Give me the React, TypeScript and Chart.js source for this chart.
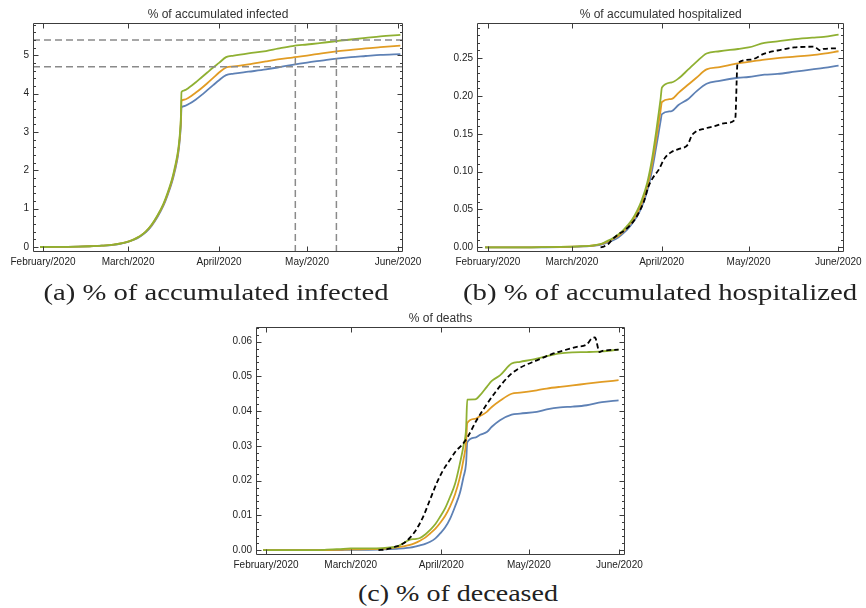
import React, { useEffect, useLayoutEffect, useRef, useState } from "react";
import { Chart, registerables } from "chart.js";
Chart.register(...registerables);

const BLUE = "#5E81B5";
const ORANGE = "#E19C24";
const GREEN = "#8FB032";
const SANS = '"Liberation Sans", Arial, sans-serif';

// x positions are days since 1 Feb 2020
const monthTicks = [0, 29, 60, 90, 121];
const monthLabels = ["February/2020", "March/2020", "April/2020", "May/2020", "June/2020"];

// (a) accumulated infected
const infDays = [-1, 4, 8, 12, 16, 20, 24, 27, 29, 31, 33, 35, 37, 39, 41, 42.5, 44, 45, 46, 46.6, 47.0,
  47.2, 48, 50, 52, 54, 56, 58, 60, 62.4, 65, 70, 76, 80, 85, 90, 95, 100, 105, 110, 115, 121.8];
const infGreen = [0, 0.002, 0.005, 0.01, 0.02, 0.035, 0.06, 0.1, 0.14, 0.2, 0.28, 0.4, 0.58, 0.82, 1.12, 1.42, 1.78, 2.1, 2.5, 2.9, 3.4,
  4.04, 4.08, 4.17, 4.29, 4.42, 4.55, 4.68, 4.8, 4.95, 4.99, 5.05, 5.11, 5.17, 5.24, 5.28, 5.32, 5.37, 5.41, 5.45, 5.49, 5.53];
const infOrange = [0, 0.002, 0.005, 0.01, 0.02, 0.035, 0.06, 0.1, 0.14, 0.2, 0.28, 0.4, 0.57, 0.81, 1.1, 1.39, 1.74, 2.05, 2.44, 2.84, 3.3,
  3.81, 3.84, 3.91, 4.02, 4.14, 4.27, 4.41, 4.55, 4.68, 4.71, 4.76, 4.84, 4.89, 4.94, 4.99, 5.05, 5.1, 5.14, 5.18, 5.21, 5.25];
const infBlue = [0, 0.002, 0.005, 0.01, 0.02, 0.034, 0.058, 0.097, 0.135, 0.19, 0.27, 0.38, 0.55, 0.78, 1.07, 1.36, 1.7, 2.0, 2.38, 2.78, 3.2,
  3.64, 3.67, 3.74, 3.84, 3.96, 4.09, 4.22, 4.35, 4.48, 4.52, 4.57, 4.63, 4.68, 4.75, 4.81, 4.86, 4.91, 4.95, 4.98, 5.01, 5.03];
const infRefLevels = [5.4, 4.7];
const infRefDays = [86, 100];

// (b) accumulated hospitalized
const hospDays = [-1, 5, 10, 15, 20, 25, 29, 32, 35, 37, 39.4, 41, 43.1, 45, 46.3, 48, 49.7, 51.5, 53.1, 55, 56.6, 58, 58.9, 59.6, 60.1,
  63.5, 65.8, 69.2, 72, 75.5, 80, 86.4, 90, 95.5, 100, 106, 112, 116, 121.1];
const hospGreen = [0, 0, 0, 0, 0.0002, 0.0005, 0.001, 0.0015, 0.002, 0.003, 0.005, 0.008, 0.012, 0.017, 0.021, 0.028, 0.036, 0.048, 0.062, 0.085, 0.115, 0.15, 0.175, 0.195, 0.211,
  0.218, 0.223, 0.235, 0.245, 0.256, 0.259, 0.262, 0.264, 0.27, 0.272, 0.275, 0.277, 0.278, 0.281];
const hospOrange = [0, 0, 0, 0, 0.0002, 0.0004, 0.0008, 0.0012, 0.0018, 0.0027, 0.0045, 0.007, 0.011, 0.015, 0.019, 0.026, 0.034, 0.045, 0.058, 0.08, 0.108, 0.14, 0.163, 0.18, 0.192,
  0.196, 0.204, 0.215, 0.224, 0.235, 0.238, 0.243, 0.245, 0.248, 0.25, 0.252, 0.254, 0.256, 0.259];
const hospBlue = [0, 0, 0, 0, 0.0001, 0.0003, 0.0006, 0.001, 0.0015, 0.0023, 0.004, 0.006, 0.009, 0.013, 0.017, 0.023, 0.031, 0.041, 0.053, 0.074, 0.1, 0.13, 0.15, 0.166, 0.176,
  0.18, 0.188, 0.196, 0.206, 0.216, 0.22, 0.224, 0.225, 0.228, 0.229, 0.232, 0.235, 0.237, 0.24];
const hospObsDays = [38.9, 40, 41.5, 43.1, 45, 47.4, 50, 52, 54, 55.4, 57, 58.9, 61.1, 63.4, 66, 69.1, 70.3, 71.5, 75, 78.3, 82, 85.4, 86.2,
  90.8, 95.5, 100, 105.8, 112.6, 114.9, 116, 121.1];
const hospObs = [0, 0.001, 0.004, 0.011, 0.017, 0.023, 0.033, 0.045, 0.062, 0.08, 0.092, 0.102, 0.118, 0.126, 0.13, 0.136, 0.147, 0.152, 0.157, 0.16, 0.164, 0.169, 0.243,
  0.248, 0.256, 0.26, 0.264, 0.265, 0.26, 0.262, 0.263];

// (c) deaths
const deathDays = [-1, 10, 20, 25, 29, 35, 40, 42.5, 44.8, 47, 49.3, 51, 52.7, 54.5, 56.2, 58, 59.6, 61.3, 63, 64.7, 66.4, 67.6, 68.5, 68.9,
  71.6, 73.3, 75.6, 77.3, 80.1, 84.1, 87, 92.7, 96.1, 100.7, 105, 109.8, 115, 120.7];
const deathGreen = [0, 0, 0.0001, 0.0003, 0.0005, 0.0005, 0.0006, 0.0008, 0.001, 0.002, 0.003, 0.0032, 0.0035, 0.0045, 0.0058, 0.0075, 0.0096, 0.012, 0.0153, 0.019, 0.025, 0.03, 0.035, 0.0433,
  0.0434, 0.0446, 0.047, 0.0487, 0.0503, 0.0537, 0.0542, 0.0551, 0.0558, 0.0566, 0.0569, 0.057, 0.0572, 0.0577];
const deathOrange = [0, 0, 0, 0.0001, 0.0002, 0.0003, 0.0004, 0.0006, 0.0008, 0.0011, 0.0015, 0.002, 0.0027, 0.0036, 0.0048, 0.0062, 0.0078, 0.0098, 0.0125, 0.016, 0.021, 0.026, 0.031, 0.0366,
  0.0378, 0.0386, 0.0398, 0.0412, 0.043, 0.045, 0.0453, 0.046, 0.0465, 0.047, 0.0474, 0.0479, 0.0484, 0.0489];
const deathBlue = [0, 0, 0, 0, 0.0001, 0.0001, 0.0002, 0.0003, 0.0004, 0.0005, 0.0007, 0.001, 0.0014, 0.0018, 0.0024, 0.0034, 0.0048, 0.0065, 0.009, 0.0125, 0.0165, 0.021, 0.025, 0.031,
  0.0324, 0.0332, 0.034, 0.0355, 0.0374, 0.039, 0.0393, 0.0398, 0.0405, 0.0411, 0.0413, 0.0417, 0.0426, 0.0431];
const deathObsDays = [38.5, 41, 42.5, 44, 45.9, 47.5, 49.3, 51.5, 53.9, 56, 58.4, 60.5, 63, 65, 67, 69, 72.1, 75.6, 79, 83.4, 87, 92.7, 98.4, 102,
  106.4, 109.8, 111.5, 112.6, 114.2, 115, 120.7];
const deathObs = [0, 0.0002, 0.0005, 0.0009, 0.0014, 0.0022, 0.0036, 0.006, 0.0098, 0.0142, 0.0192, 0.0228, 0.026, 0.0285, 0.0302, 0.0325, 0.0374, 0.042, 0.046, 0.0503, 0.0525, 0.0546, 0.0566, 0.0575,
  0.0585, 0.0592, 0.0609, 0.0612, 0.057, 0.0573, 0.0577];

const infYTicks = [0, 1, 2, 3, 4, 5];
const hospYTicks = [0, 0.05, 0.1, 0.15, 0.2, 0.25];
const deathYTicks = [0, 0.01, 0.02, 0.03, 0.04, 0.05, 0.06];

const pts = (xs: number[], ys: number[]) => xs.map((x, i) => ({ x, y: ys[i] }));

const curve = (xs: number[], ys: number[], color: string) => ({
  data: pts(xs, ys),
  borderColor: color,
  borderWidth: 1.8,
  pointRadius: 0,
  fill: false,
  cubicInterpolationMode: "monotone",
});
const dashed = (xs: number[], ys: number[]) => ({
  data: pts(xs, ys),
  borderColor: "#000",
  borderWidth: 1.8,
  borderDash: [5, 3],
  pointRadius: 0,
  fill: false,
  cubicInterpolationMode: "monotone",
});
const refLine = (xs: number[], ys: number[]) => ({
  data: pts(xs, ys),
  borderColor: "#8a8a8a",
  borderWidth: 1.5,
  borderDash: [7, 4],
  pointRadius: 0,
  fill: false,
});

const frameTicks = {
  id: "frameTicks",
  afterDatasetsDraw(chart: any, _args: any, opts: any) {
    const { ctx, chartArea: a, scales } = chart;
    const xs = scales.x, ys = scales.y;
    ctx.save();
    ctx.strokeStyle = "#3c3c3c";
    ctx.lineWidth = 1;
    const L = Math.round(a.left) + 0.5, R = Math.round(a.right) - 0.5;
    const T = Math.round(a.top) + 0.5, B = Math.round(a.bottom) - 0.5;
    ctx.beginPath();
    ctx.rect(L, T, R - L, B - T);
    ctx.stroke();
    ctx.beginPath();
    const nMin = Math.ceil(ys.min / opts.yMinor - 1e-9);
    const nMax = Math.floor(ys.max / opts.yMinor + 1e-9);
    for (let n = nMin; n <= nMax; n++) {
      const v = n * opts.yMinor;
      const r = v / opts.yMajor;
      const major = Math.abs(r - Math.round(r)) < 1e-6;
      const len = major ? 5 : 2.5;
      const py = Math.round(ys.getPixelForValue(v)) + 0.5;
      ctx.moveTo(L, py); ctx.lineTo(L + len, py);
      ctx.moveTo(R, py); ctx.lineTo(R - len, py);
    }
    for (const d of monthTicks) {
      const px = Math.round(xs.getPixelForValue(d)) + 0.5;
      ctx.moveTo(px, B); ctx.lineTo(px, B - 5);
      ctx.moveTo(px, T); ctx.lineTo(px, T + 5);
    }
    ctx.stroke();
    ctx.restore();
  },
};

type PanelProps = {
  left: number; top: number; width: number; height: number;
  title: string; datasets: any[];
  xMin: number; xMax: number; yMin: number; yMax: number;
  yTicks: number[]; yDec: number; yMajor: number; yMinor: number;
  yWidth: number; xHeight: number; padRight: number;
};

function Panel(p: PanelProps) {
  const ref = useRef<HTMLCanvasElement>(null);
  useEffect(() => {
    const chart = new Chart(ref.current as HTMLCanvasElement, {
      type: "line",
      data: { datasets: p.datasets },
      plugins: [frameTicks],
      options: {
        responsive: false,
        animation: false,
        devicePixelRatio: 1,
        layout: { padding: { left: 0, right: p.padRight, top: 0, bottom: 0 } },
        plugins: {
          legend: { display: false },
          tooltip: { enabled: false },
          title: {
            display: true,
            text: p.title,
            fullSize: false,
            color: "#333",
            font: { family: SANS, size: 12, weight: "normal", lineHeight: 1.2 },
            padding: { top: 7, bottom: 2 },
          },
          frameTicks: { yMajor: p.yMajor, yMinor: p.yMinor },
        } as any,
        scales: {
          x: {
            type: "linear",
            bounds: "data",
            min: p.xMin,
            max: p.xMax,
            grid: { display: false, drawTicks: false },
            border: { display: false },
            afterBuildTicks: (s: any) => { s.ticks = monthTicks.map((v) => ({ value: v })); },
            afterFit: (s: any) => { s.height = p.xHeight; },
            ticks: {
              autoSkip: false,
              maxRotation: 0,
              padding: 4,
              color: "#222",
              font: { family: SANS, size: 10 },
              callback: (v: any) => {
                const i = monthTicks.findIndex((m) => Math.abs(m - Number(v)) < 1e-6);
                return i >= 0 ? monthLabels[i] : "";
              },
            },
          },
          y: {
            type: "linear",
            bounds: "data",
            min: p.yMin,
            max: p.yMax,
            grid: { display: false, drawTicks: false },
            border: { display: false },
            afterBuildTicks: (s: any) => { s.ticks = p.yTicks.map((v) => ({ value: v })); },
            afterFit: (s: any) => { s.width = p.yWidth; },
            ticks: {
              autoSkip: false,
              padding: 4,
              color: "#222",
              font: { family: SANS, size: 10 },
              callback: (v: any) => Number(v).toFixed(p.yDec),
            },
          },
        },
      } as any,
    });
    return () => chart.destroy();
  }, []);
  return (
    <div style={{ position: "absolute", left: p.left, top: p.top, width: p.width, height: p.height }}>
      <canvas ref={ref} width={p.width} height={p.height} style={{ width: p.width, height: p.height, display: "block" }} />
    </div>
  );
}

function Caption({ text, cx, cy, width }: { text: string; cx: number; cy: number; width: number }) {
  const ref = useRef<HTMLSpanElement>(null);
  const [sx, setSx] = useState(1);
  useLayoutEffect(() => {
    const w = ref.current ? ref.current.getBoundingClientRect().width : width;
    if (w > 0) setSx(width / w);
  }, []);
  return (
    <div
      style={{
        position: "absolute",
        left: cx,
        top: cy,
        transform: `translate(-50%, -50%) scaleX(${sx})`,
        whiteSpace: "nowrap",
        fontFamily: '"Liberation Serif", "Times New Roman", serif',
        fontSize: 24,
        fontWeight: 400,
        lineHeight: 1,
        color: "#222",
      }}
    >
      <span ref={ref}>{text}</span>
    </div>
  );
}

export default function App() {
  const infDatasets = [
    refLine([-3.41, 122.7], [infRefLevels[0], infRefLevels[0]]),
    refLine([-3.41, 122.7], [infRefLevels[1], infRefLevels[1]]),
    refLine([infRefDays[0], infRefDays[0]], [-0.13, 5.83]),
    refLine([infRefDays[1], infRefDays[1]], [-0.13, 5.83]),
    curve(infDays, infGreen, GREEN),
    curve(infDays, infOrange, ORANGE),
    curve(infDays, infBlue, BLUE),
  ];
  const hospDatasets = [
    dashed(hospObsDays, hospObs),
    curve(hospDays, hospGreen, GREEN),
    curve(hospDays, hospOrange, ORANGE),
    curve(hospDays, hospBlue, BLUE),
  ];
  const deathDatasets = [
    dashed(deathObsDays, deathObs),
    curve(deathDays, deathGreen, GREEN),
    curve(deathDays, deathOrange, ORANGE),
    curve(deathDays, deathBlue, BLUE),
  ];
  return (
    <div style={{ position: "absolute", left: 0, top: 0, width: 866, height: 608, background: "#fff", overflow: "hidden" }}>
      <Panel left={0} top={0} width={433} height={275} title="% of accumulated infected" datasets={infDatasets}
        xMin={-3.41} xMax={122.7} yMin={-0.13} yMax={5.83} yTicks={infYTicks} yDec={0} yMajor={1} yMinor={0.2}
        yWidth={33} xHeight={23} padRight={30} />
      <Panel left={433} top={0} width={433} height={275} title="% of accumulated hospitalized" datasets={hospDatasets}
        xMin={-3.77} xMax={123.1} yMin={-0.0062} yMax={0.2958} yTicks={hospYTicks} yDec={2} yMajor={0.05} yMinor={0.01}
        yWidth={44} xHeight={23} padRight={19} />
      <Panel left={210} top={304} width={440} height={275} title="% of deaths" datasets={deathDatasets}
        xMin={-3.42} xMax={122.9} yMin={-0.0014} yMax={0.0641} yTicks={deathYTicks} yDec={2} yMajor={0.01} yMinor={0.002}
        yWidth={46} xHeight={24} padRight={25} />
      <Caption text="(a) % of accumulated infected" cx={216} cy={292} width={345} />
      <Caption text="(b) % of accumulated hospitalized" cx={660} cy={292} width={394} />
      <Caption text="(c) % of deceased" cx={458} cy={593} width={200} />
    </div>
  );
}
